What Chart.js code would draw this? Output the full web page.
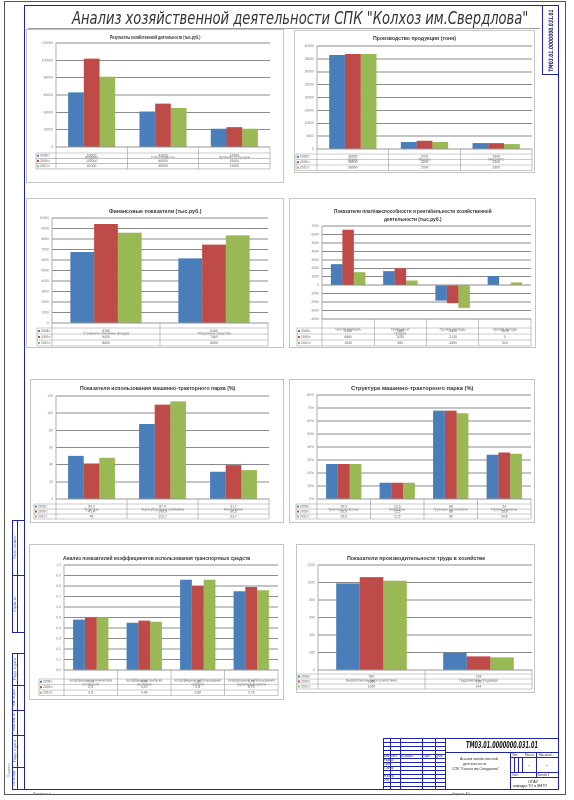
<!DOCTYPE html>
<html><head><meta charset="utf-8">
<script src="https://cdn.jsdelivr.net/npm/chart.js@4.4.0/dist/chart.umd.min.js"></script>
<style>
html,body{margin:0;padding:0;background:#fff;}
body{width:574px;height:800px;position:relative;overflow:hidden;font-family:"Liberation Sans",Arial,sans-serif;}
.abs{position:absolute;}
.panel{position:absolute;outline:1px solid #c4c4c4;}
.panel canvas{position:absolute;left:0;top:0;}
.ctitle{position:absolute;white-space:nowrap;font-size:5px;font-weight:bold;color:#333;transform-origin:0 0;line-height:6px;}
.tx{position:absolute;white-space:nowrap;color:#333;transform-origin:0 0;}
</style></head><body>
<div id="sheet"></div>
<script>
// ---------------- DATA ----------------
const seriesNames = ['2008 г.', '2009 г.', '2010 г.'];

const c1Title = ['Результаты хозяйственной деятельности (тыс.руб.)'];
const c1Cats = ['Выручка', 'Себестоимость', 'Прибыль от продаж'];
const c1_2008 = [63000, 41000, 21000];
const c1_2009 = [102000, 50000, 23000];
const c1_2010 = [81000, 45000, 21000];
const c1Ticks = [0, 120000, 20000];

const c2Title = ['Производство продукции (тонн)'];
const c2Cats = ['Зерно', 'Молоко', 'Мясо КРС'];
const c2_2008 = [36500, 2700, 2300];
const c2_2009 = [36900, 3200, 2300];
const c2_2010 = [36900, 2700, 1900];
const c2Ticks = [0, 40000, 5000];

const c3Title = ['Финансовые показатели (тыс.руб.)'];
const c3Cats = ['Стоимость основных фондов', 'Оборотные средства'];
const c3_2008 = [6760, 6160];
const c3_2009 = [9430, 7460];
const c3_2010 = [8600, 8350];
const c3Ticks = [0, 10000, 1000];

const c4Title = ['Показатели платёжеспособности и рентабельности хозяйственной', 'деятельности (тыс.руб.)'];
const c4Cats = ['Чистая прибыль', ['Прибыль от', 'продаж'], 'Прочие расходы', 'Прочие доходы'];
const c4_2008 = [2490, 1660, -1820, 1070];
const c4_2009 = [6560, 2020, -2130, 0];
const c4_2010 = [1540, 550, -2690, 320];
const c4Ticks = [-4000, 7000, 1000];

const c5Title = ['Показатели использования машинно-тракторного парка (%)'];
const c5Cats = ['Тракторы', 'Зерноуборочные комбайны', 'Автомобили'];
const c5_2008 = [50.3, 87.4, 31.7];
const c5_2009 = [41.4, 109.9, 39.5];
const c5_2010 = [48.0, 113.7, 33.7];
const c5Ticks = [0, 120, 20];

const c6Title = ['Структура машинно-тракторного парка (%)'];
const c6Cats = ['Тракторы колёсные', 'Комбайны', 'Грузовые автомобили', 'Прочие машины'];
const c6_2008 = [26.9, 12.5, 68.0, 34.0];
const c6_2009 = [26.9, 12.5, 68.0, 35.8];
const c6_2010 = [26.9, 12.5, 66.0, 34.8];
const c6Ticks = [0, 80, 10];

const c7Title = ['Анализ показателей коэффициентов использования транспортных средств'];
const c7Cats = [['Коэффициент технической', 'готовности'], ['Коэффициент выпуска', 'на линию'], ['Коэффициент использования', 'пробега'], ['Коэффициент использования', 'грузоподъёмности']];
const c7_2008 = [0.48, 0.45, 0.86, 0.75];
const c7_2009 = [0.50, 0.47, 0.80, 0.79];
const c7_2010 = [0.50, 0.46, 0.86, 0.76];
const c7Ticks = [0, 1, 0.1];

const c8Title = ['Показатели производительности труда в хозяйстве'];
const c8Cats = ['Выработка на одного работника', 'Трудоёмкость продукции'];
const c8_2008 = [990, 198];
const c8_2009 = [1062, 156];
const c8_2010 = [1020, 144];
const c8Ticks = [0, 1200, 200];

// ---------------- STYLE / LAYOUT ----------------
const COLORS = ['#4A7EBB', '#BE4B48', '#98B954'];
const sheet = document.getElementById('sheet');

function fmtNum(v) {
  return String(v).replace('.', ',');
}

const tablePlugin = {
  id: 'dataTable',
  afterDraw(chart) {
    const g = chart.options.plugins.dataTable;
    if (!g) return;
    const ctx = chart.ctx, a = chart.chartArea, x = chart.scales.x;
    const n = chart.data.labels.length;
    const cw = (a.right - a.left) / n;
    const ds = chart.data.datasets;
    const t0 = a.bottom + g.labelH;
    const tl = a.left - g.keyW;
    const tb = t0 + ds.length * g.rowH;
    ctx.save();
    ctx.strokeStyle = '#9a9a9a';
    ctx.lineWidth = 0.6;
    ctx.beginPath();
    for (let i = 0; i <= ds.length; i++) {
      const y = t0 + i * g.rowH;
      ctx.moveTo(tl, y); ctx.lineTo(a.right, y);
    }
    for (let k = 0; k <= n; k++) {
      const xx = a.left + k * cw;
      ctx.moveTo(xx, a.bottom); ctx.lineTo(xx, tb);
    }
    ctx.moveTo(tl, t0); ctx.lineTo(tl, tb);
    ctx.stroke();
    ctx.font = '3.4px "Liberation Sans", Arial, sans-serif';
    ctx.textBaseline = 'middle';
    ds.forEach((d, i) => {
      const y = t0 + (i + 0.5) * g.rowH;
      ctx.fillStyle = d.backgroundColor;
      ctx.fillRect(tl + 1, y - 1, 2, 2);
      ctx.fillStyle = '#555';
      ctx.textAlign = 'left';
      ctx.fillText(d.label, tl + 4, y);
      ctx.textAlign = 'center';
      d.data.forEach((v, j) => ctx.fillText(fmtNum(v), x.getPixelForValue(j), y));
    });
    ctx.restore();
  }
};

function fitWidth(el, target) {
  const w = el.offsetWidth;
  el.style.transform = 'scaleX(' + (target / w) + ')';
}

function makeChart(geo, title, cats, s1, s2, s3, ticks, tickFmt) {
  const W = geo.R - geo.L, H = geo.B - geo.T;
  const panel = document.createElement('div');
  panel.className = 'panel';
  panel.style.left = geo.L + 'px'; panel.style.top = geo.T + 'px';
  panel.style.width = W + 'px'; panel.style.height = H + 'px';
  const cv = document.createElement('canvas');
  cv.width = W; cv.height = H;
  cv.style.width = W + 'px'; cv.style.height = H + 'px';
  panel.appendChild(cv);
  sheet.appendChild(panel);
  title.forEach((line, i) => {
    const t = document.createElement('div');
    t.className = 'ctitle';
    t.textContent = line;
    sheet.appendChild(t);
    fitWidth(t, geo.tw[i]);
    t.style.left = ((geo.L + geo.R) / 2 - geo.tw[i] / 2) + 'px';
    t.style.top = (geo.ty + i * 8 - 3) + 'px';
  });
  const xh = geo.labelH + 3 * geo.rowH + 1;
  const yw = geo.l - geo.L - 1;
  new Chart(cv, {
    type: 'bar',
    data: {
      labels: cats,
      datasets: [s1, s2, s3].map((d, i) => ({
        label: seriesNames[i], data: d, backgroundColor: COLORS[i],
        borderWidth: 0, categoryPercentage: 0.66, barPercentage: 1.0
      }))
    },
    options: {
      responsive: false, animation: false, devicePixelRatio: 2,
      layout: { padding: { left: 1, right: geo.R - geo.r, top: geo.t - geo.T, bottom: Math.max(0, geo.B - geo.b - xh) } },
      plugins: {
        legend: { display: false }, title: { display: false }, tooltip: { enabled: false },
        dataTable: { labelH: geo.labelH, rowH: geo.rowH, keyW: geo.keyW }
      },
      scales: {
        x: {
          grid: { display: false },
          border: { display: geo.xBorder !== false, color: '#9a9a9a', width: 0.8 },
          ticks: { font: { size: 3.4, family: '"Liberation Sans", Arial' }, color: '#666', maxRotation: 0, autoSkip: false, padding: 0.5 },
          afterFit(s) { s.height = xh; }
        },
        y: {
          min: ticks[0], max: ticks[1],
          grid: { color: '#8a8a8a', lineWidth: 0.9, drawTicks: false },
          border: { display: true, color: '#9a9a9a', width: 0.8 },
          ticks: { stepSize: ticks[2], font: { size: 3.4, family: '"Liberation Sans", Arial' }, color: '#777', padding: 3,
                   callback: tickFmt || (v => String(v)) },
          afterFit(s) { s.width = yw; }
        }
      }
    },
    plugins: [tablePlugin]
  });
}

makeChart({L:27,T:30,R:283,B:182,l:56,t:43,r:270,b:147,labelH:6,rowH:5.3,keyW:20,ty:37,tw:[90]},
  c1Title, c1Cats, c1_2008, c1_2009, c1_2010, c1Ticks);
makeChart({L:295,T:31,R:534,B:172,l:317,t:46,r:532,b:149,labelH:5,rowH:5.5,keyW:21,ty:38,tw:[83]},
  c2Title, c2Cats, c2_2008, c2_2009, c2_2010, c2Ticks);
makeChart({L:27,T:199,R:283,B:347,l:52,t:218,r:268,b:323,labelH:5,rowH:6,keyW:15,ty:211,tw:[92]},
  c3Title, c3Cats, c3_2008, c3_2009, c3_2010, c3Ticks);
makeChart({L:290,T:199,R:535,B:347,l:322,t:226,r:531,b:319,labelH:9,rowH:6,keyW:25,ty:211,tw:[158,58],xBorder:false},
  c4Title, c4Cats, c4_2008, c4_2009, c4_2010, c4Ticks);
makeChart({L:31,T:380,R:283,B:522,l:56,t:396,r:269,b:499,labelH:5,rowH:5,keyW:22,ty:388,tw:[155]},
  c5Title, c5Cats, c5_2008, c5_2009, c5_2010, c5Ticks);
makeChart({L:290,T:380,R:534,B:522,l:317,t:395,r:531,b:499,labelH:5,rowH:5,keyW:21,ty:388,tw:[122]},
  c6Title, c6Cats, c6_2008, c6_2009, c6_2010, c6Ticks, v => v + '%');
makeChart({L:30,T:545,R:283,B:699,l:64,t:565,r:278,b:670,labelH:9,rowH:5.5,keyW:25,ty:558,tw:[187]},
  c7Title, c7Cats, c7_2008, c7_2009, c7_2010, c7Ticks, v => v.toFixed(1).replace('.', ','));
makeChart({L:297,T:545,R:534,B:692,l:318,t:565,r:532,b:670,labelH:4,rowH:5,keyW:21,ty:558,tw:[138]},
  c8Title, c8Cats, c8_2008, c8_2009, c8_2010, c8Ticks);

// ---------------- DRAWING SHEET FRAME ----------------
function box(x, y, w, h, css) {
  const d = document.createElement('div');
  d.className = 'abs';
  d.style.cssText += `left:${x}px;top:${y}px;width:${w}px;height:${h}px;` + (css || '');
  sheet.appendChild(d); return d;
}
function hl(x1, x2, y, w, c) { box(x1, y, x2 - x1, w || 1, 'background:' + (c || '#1f25a8')); }
function vl(x, y1, y2, w, c) { box(x, y1, w || 1, y2 - y1, 'background:' + (c || '#1f25a8')); }
function txt(x, y, s, size, css) {
  const d = document.createElement('div');
  d.className = 'tx';
  d.textContent = s;
  d.style.cssText += `left:${x}px;top:${y}px;font-size:${size}px;line-height:${size + 1}px;` + (css || '');
  sheet.appendChild(d); return d;
}
function rtxt(cx, cy, s, size, len, css) {
  // vertical text centred at (cx, cy), reading bottom to top, fitted to length len
  const d = txt(0, 0, s, size, css);
  const w = d.offsetWidth, h = d.offsetHeight;
  const k = len / w;
  d.style.left = (cx - w / 2) + 'px';
  d.style.top = (cy - h / 2) + 'px';
  d.style.transformOrigin = '50% 50%';
  d.style.transform = 'rotate(-90deg) scaleX(' + k + ')';
  return d;
}

// outer thin frame
box(4, 1, 562, 794, 'border:1px solid #555;box-sizing:border-box;');
// main blue frame
box(24, 5, 535, 785, 'border:1.6px solid #1f25a8;box-sizing:border-box;');

// sheet title
const st = txt(72, 9, 'Анализ хозяйственной деятельности СПК "Колхоз им.Свердлова"', 17,
  'font-family:"Liberation Sans Narrow","DejaVu Sans Condensed","Liberation Sans",sans-serif;font-style:italic;color:#333;line-height:18px;');
fitWidth(st, 456);
hl(28, 540, 28, 0.8, '#9a9a9a');

// top-right code box (rotated)
box(542, 5, 17, 70, 'border:1.4px solid #1f25a8;box-sizing:border-box;');
rtxt(550.5, 40, 'ТМ03.01.0000000.031.01', 6, 62,
  'font-family:"Liberation Sans Narrow","DejaVu Sans Condensed",sans-serif;font-style:italic;font-weight:bold;color:#1a1a60;');

// left strip boxes
box(12, 520, 13, 113, 'border:1.4px solid #1f25a8;box-sizing:border-box;');
hl(12, 25, 575, 1.2); vl(17, 520, 633, 1);
box(12, 653, 13, 137, 'border:1.4px solid #1f25a8;box-sizing:border-box;');
[685, 710, 735, 767].forEach(y => hl(12, 25, y, 1.2));
vl(17, 653, 790, 1);
[['Перв. примен.', 547, 24], ['Справ. №', 604, 16], ['Подп. и дата', 669, 22], ['Инв. № дубл.', 697, 18], ['Взам. инв. №', 722, 18], ['Подп. и дата', 751, 22], ['Инв. № подл.', 778, 16]].forEach(([s, y, len]) => {
  rtxt(14.5, y, s, 3, len, 'color:#555;');
});
rtxt(9, 770, 'Подпись', 3.5, 14, 'color:#888;');

// bottom labels outside frame
txt(33, 792, 'Копировал', 3.5, 'color:#666;');
txt(452, 792, 'Формат A2', 3.5, 'color:#666;');

// title block
const TBx = 383, TBy = 738, TBr = 559, TBb = 790;
box(TBx, TBy, TBr - TBx, TBb - TBy, 'border:1.6px solid #1f25a8;box-sizing:border-box;background:#fff;');
[390, 400, 422, 435].forEach(x => vl(x, TBy, TBb, 1));
vl(445, TBy, TBb, 1.4);
[742, 746, 750, 754].forEach(y => hl(TBx, 445, y, 0.7));
hl(TBx, 445, 758, 1.2);
[762, 766, 770, 774, 778, 782, 786].forEach(y => hl(TBx, 445, y, 0.7));
hl(445, TBr, 752, 1.4);
vl(510, 752, TBb, 1.4);
hl(510, TBr, 757, 1);
hl(510, TBr, 772, 1);
hl(510, TBr, 777, 1);
[514, 518, 522].forEach(x => vl(x, 757, 772, 0.8));
vl(536, 752, 777, 1);
const code = txt(466, 740, 'ТМ03.01.0000000.031.01', 9,
  'font-family:"Liberation Sans Narrow","DejaVu Sans Condensed",sans-serif;font-style:italic;font-weight:bold;color:#111;');
fitWidth(code, 72);
txt(460, 757, 'Анализ хозяйственной', 3.6, 'color:#333;');
txt(463, 762, 'деятельности', 3.6, 'color:#333;');
txt(452, 767, 'СПК "Колхоз им.Свердлова"', 3.6, 'color:#333;');
txt(512, 753, 'Лит.', 3, 'color:#333;');
txt(525, 753, 'Масса', 3, 'color:#333;');
txt(539, 753, 'Масштаб', 3, 'color:#333;');
txt(528, 762, '-', 5, 'color:#333;');
txt(546, 762, '-', 5, 'color:#333;');
txt(512, 773, 'Лист', 3, 'color:#333;');
txt(537, 773, 'Листов 1', 3, 'color:#333;');
txt(528, 779, 'ОГАУ', 4, 'color:#222;');
txt(513, 784, 'кафедра ТО и ЭМТП', 3.5, 'color:#222;');
[['Изм.', 384, 755], ['Лист', 391, 755], ['№ докум.', 401, 755], ['Подп.', 423, 755], ['Дата', 436, 755],
 ['Разраб.', 384, 759], ['Пров.', 384, 763], ['Т.контр.', 384, 767], ['Н.контр.', 384, 775], ['Утв.', 384, 779]].forEach(([s, x, y]) => txt(x, y, s, 2.8, 'color:#333;'));
</script>
</body></html>
